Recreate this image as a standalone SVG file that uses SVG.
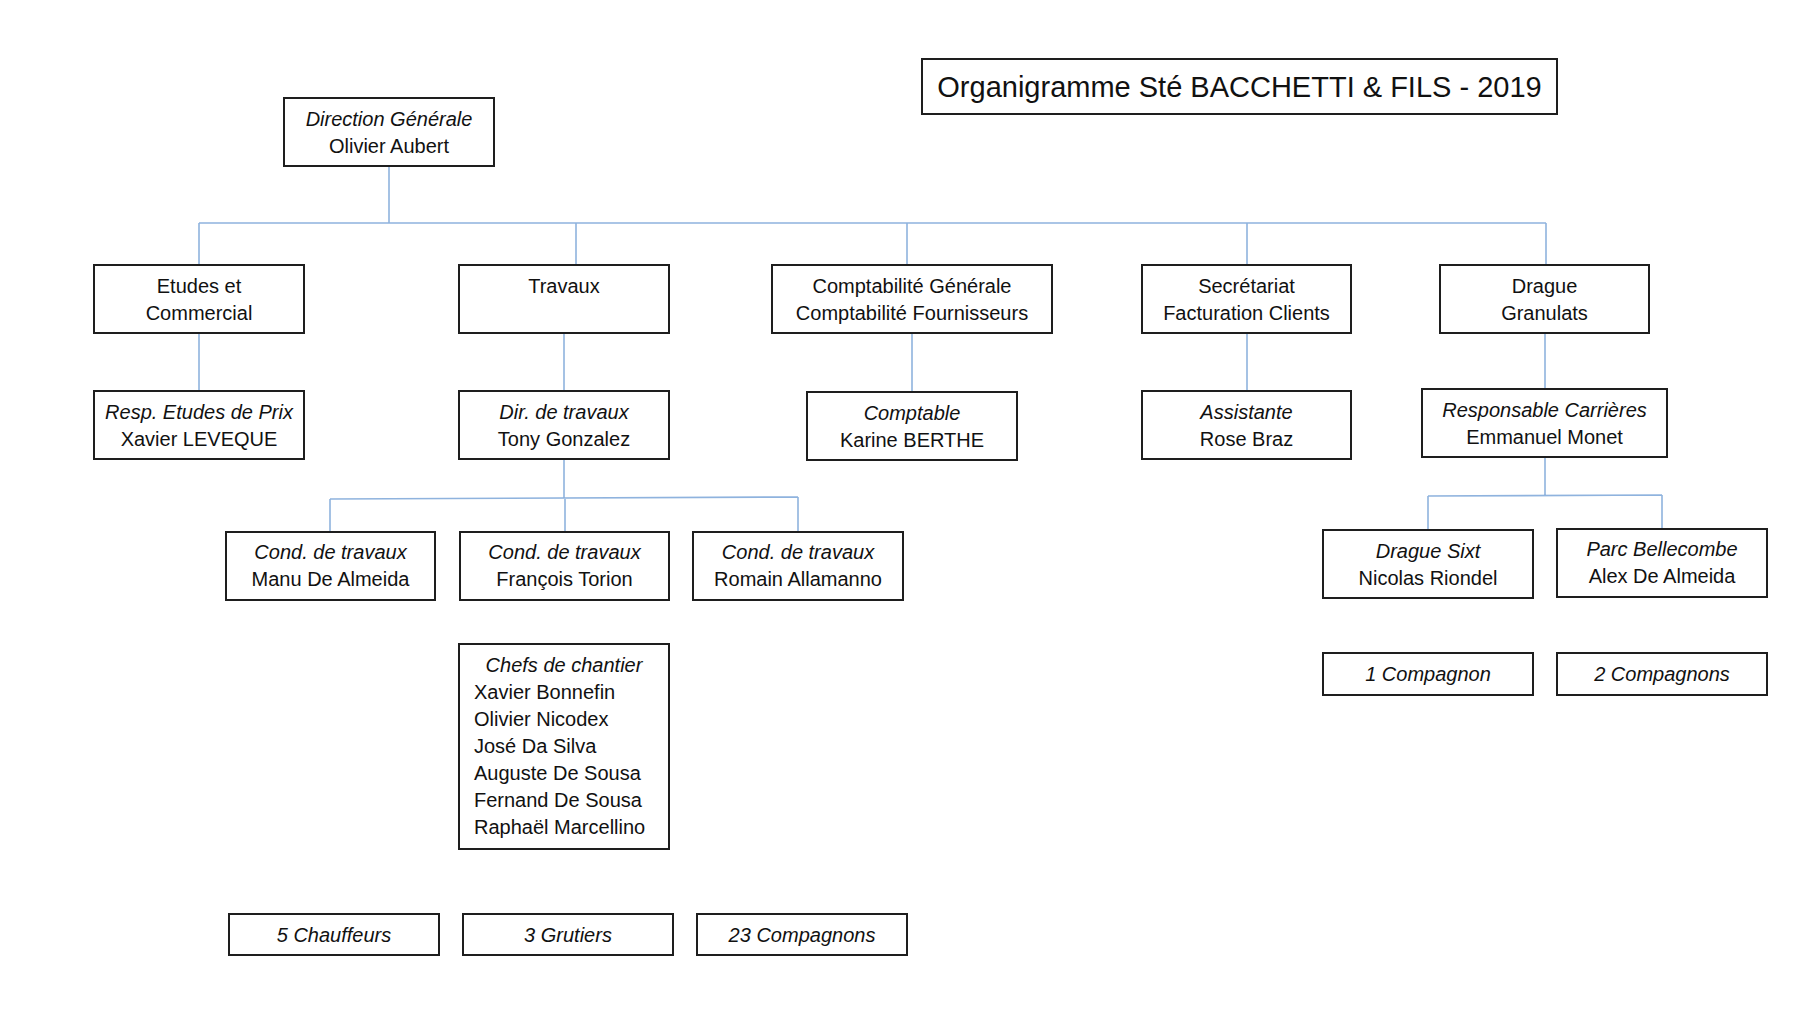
<svg xmlns="http://www.w3.org/2000/svg" width="1800" height="1012" viewBox="0 0 1800 1012">
<style>
.box{fill:#ffffff;stroke:#1e1e1e;stroke-width:2}
.t{font-family:"Liberation Sans",Arial,sans-serif;font-size:20px;fill:#111;text-anchor:middle}
.i{font-style:italic}
.l{text-anchor:start}
.title{font-family:"Liberation Sans",Arial,sans-serif;font-size:29px;fill:#111;text-anchor:middle}
.c{fill:none;stroke:#8fb3de;stroke-width:1.6}
</style>
<rect width="1800" height="1012" fill="#ffffff"/>
<g id="connectors">
<path class="c" d="M389 166V223M199 223H1546M199 223V265M576 223V265M907 223V265M1247 223V265M1546 223V265"/>
<path class="c" d="M199 333V391M564 333V391M912 333V392M1247 333V391M1545 333V389"/>
<path class="c" d="M564 459V498M330 499L798 497M330 499V532M565 498V532M798 497V532"/>
<path class="c" d="M1545 457V495M1428 496L1662 495M1428 496V530M1662 495V529"/>
</g>
<g id="title"><rect class="box" x="922" y="59" width="635" height="55"/><text class="title" x="1239.5" y="97">Organigramme Sté BACCHETTI &amp; FILS - 2019</text></g>
<g id="direction"><rect class="box" x="284" y="98" width="210" height="68"/><text class="t i" x="389" y="126">Direction Générale</text><text class="t" x="389" y="153">Olivier Aubert</text></g>
<g id="etudes"><rect class="box" x="94" y="265" width="210" height="68"/><text class="t" x="199" y="293">Etudes et</text><text class="t" x="199" y="320">Commercial</text></g>
<g id="travaux"><rect class="box" x="459" y="265" width="210" height="68"/><text class="t" x="564" y="293">Travaux</text></g>
<g id="comptabilite"><rect class="box" x="772" y="265" width="280" height="68"/><text class="t" x="912" y="293">Comptabilité Générale</text><text class="t" x="912" y="320">Comptabilité Fournisseurs</text></g>
<g id="secretariat"><rect class="box" x="1142" y="265" width="209" height="68"/><text class="t" x="1246.5" y="293">Secrétariat</text><text class="t" x="1246.5" y="320">Facturation Clients</text></g>
<g id="drague"><rect class="box" x="1440" y="265" width="209" height="68"/><text class="t" x="1544.5" y="293">Drague</text><text class="t" x="1544.5" y="320">Granulats</text></g>
<g id="resp-etudes"><rect class="box" x="94" y="391" width="210" height="68"/><text class="t i" x="199" y="419">Resp. Etudes de Prix</text><text class="t" x="199" y="446">Xavier LEVEQUE</text></g>
<g id="dir-travaux"><rect class="box" x="459" y="391" width="210" height="68"/><text class="t i" x="564" y="419">Dir. de travaux</text><text class="t" x="564" y="446">Tony Gonzalez</text></g>
<g id="comptable"><rect class="box" x="807" y="392" width="210" height="68"/><text class="t i" x="912" y="420">Comptable</text><text class="t" x="912" y="447">Karine BERTHE</text></g>
<g id="assistante"><rect class="box" x="1142" y="391" width="209" height="68"/><text class="t i" x="1246.5" y="419">Assistante</text><text class="t" x="1246.5" y="446">Rose Braz</text></g>
<g id="resp-carrieres"><rect class="box" x="1422" y="389" width="245" height="68"/><text class="t i" x="1544.5" y="417">Responsable Carrières</text><text class="t" x="1544.5" y="444">Emmanuel Monet</text></g>
<g id="cond1"><rect class="box" x="226" y="532" width="209" height="68"/><text class="t i" x="330.5" y="559">Cond. de travaux</text><text class="t" x="330.5" y="586">Manu De Almeida</text></g>
<g id="cond2"><rect class="box" x="460" y="532" width="209" height="68"/><text class="t i" x="564.5" y="559">Cond. de travaux</text><text class="t" x="564.5" y="586">François Torion</text></g>
<g id="cond3"><rect class="box" x="693" y="532" width="210" height="68"/><text class="t i" x="798" y="559">Cond. de travaux</text><text class="t" x="798" y="586">Romain Allamanno</text></g>
<g id="drague-sixt"><rect class="box" x="1323" y="530" width="210" height="68"/><text class="t i" x="1428" y="558">Drague Sixt</text><text class="t" x="1428" y="585">Nicolas Riondel</text></g>
<g id="parc-bellecombe"><rect class="box" x="1557" y="529" width="210" height="68"/><text class="t i" x="1662" y="556">Parc Bellecombe</text><text class="t" x="1662" y="583">Alex De Almeida</text></g>
<g id="chefs"><rect class="box" x="459" y="644" width="210" height="205"/><text class="t i" x="564" y="672">Chefs de chantier</text><text class="t l" x="474" y="699">Xavier Bonnefin</text><text class="t l" x="474" y="726">Olivier Nicodex</text><text class="t l" x="474" y="753">José Da Silva</text><text class="t l" x="474" y="780">Auguste De Sousa</text><text class="t l" x="474" y="807">Fernand De Sousa</text><text class="t l" x="474" y="834">Raphaël Marcellino</text></g>
<g id="compagnon1"><rect class="box" x="1323" y="653" width="210" height="42"/><text class="t i" x="1428" y="681">1 Compagnon</text></g>
<g id="compagnons2"><rect class="box" x="1557" y="653" width="210" height="42"/><text class="t i" x="1662" y="681">2 Compagnons</text></g>
<g id="chauffeurs"><rect class="box" x="229" y="914" width="210" height="41"/><text class="t i" x="334" y="942">5 Chauffeurs</text></g>
<g id="grutiers"><rect class="box" x="463" y="914" width="210" height="41"/><text class="t i" x="568" y="942">3 Grutiers</text></g>
<g id="compagnons23"><rect class="box" x="697" y="914" width="210" height="41"/><text class="t i" x="802" y="942">23 Compagnons</text></g>
</svg>
